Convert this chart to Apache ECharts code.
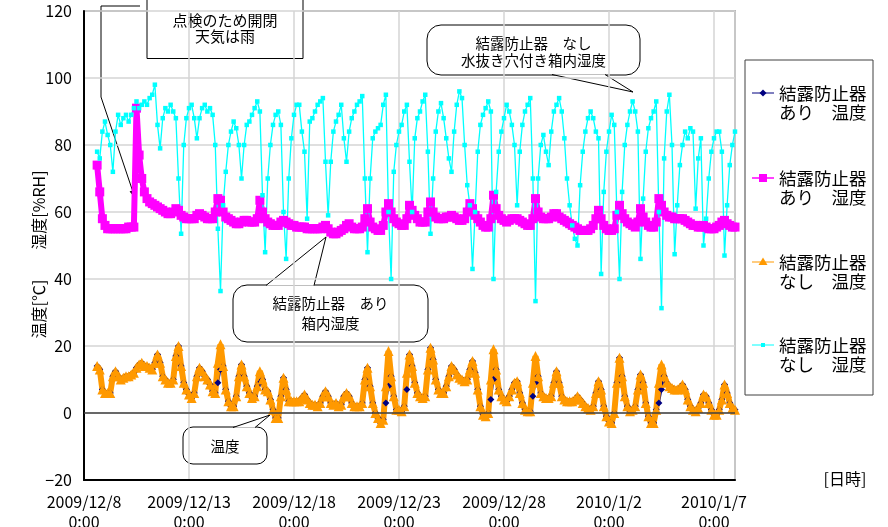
<!DOCTYPE html>
<html>
<head>
<meta charset="utf-8">
<script src="https://cdn.jsdelivr.net/npm/echarts@6/dist/echarts.min.js"></script>
<style>
  html, body { margin: 0; padding: 0; background: #fff; }
  #chart { width: 888px; height: 527px; }
</style>
</head>
<body>
<div id="chart"></div>
<script>
// Readings every 3 hours, first sample at 2009/12/8 15:00.
// x values are hours counted from 2009/12/8 0:00.
const START_HOUR = 15;
const STEP_HOURS = 3;

const xTickLabels = ['2009/12/8', '2009/12/13', '2009/12/18', '2009/12/23', '2009/12/28', '2010/1/2', '2010/1/7'];
const xTickTime = '0:00';

// 結露防止器あり 温度 [℃]
const tempAri = [
  14, 13, 7, 6, 6, 6, 11, 12.5,
  11, 10, 10.5, 11, 11, 11.5, 12, 13.5,
  14.5, 15, 14, 14, 13.5, 13, 15, 17.5,
  15, 11, 10, 9, 9, 10, 17, 20,
  14, 9, 7, 5.5, 4.5, 6, 11, 13.5,
  12.5, 11, 10, 8.5, 6.5, 6, 9, 13,
  14, 7, 3.5, 2, 2, 5, 11, 14.5,
  11, 8, 6, 4.5, 5, 8, 9, 10,
  7, 6.5, 4, 1, -1.5, -1.5, 5, 10.5,
  7, 3.5, 3.5, 3.5, 3.5, 3.5, 4.5, 5.5,
  4, 3, 2.5, 2.5, 2, 3, 5, 6.5,
  5, 3, 2.5, 3, 2, 2.5, 5, 6,
  5, 3, 2, 2, 2, 3, 10, 13.5,
  8, 3, 0, -1.5, -3, -2, 3, 8,
  11, 5, 1, 1, 0.5, 2, 7, 17.5,
  14, 9, 6, 5, 4.5, 5, 13, 19.5,
  16, 10, 7, 6, 6, 8, 11, 14,
  13, 11.5, 10.5, 10, 9.5, 10, 13, 15.5,
  12, 7, 2, -0.5, -1, 0, 4, 10,
  13, 7, 5, 4, 3.5, 5, 7, 9,
  9.5, 6, 3, 1, 0.5, 0.5, 5, 9,
  11, 6, 5, 4.5, 4.5, 5, 9, 12.5,
  9, 5, 4, 3.5, 3.5, 3.5, 4, 5,
  4, 3, 2, 1.5, 1, 2, 6, 9.5,
  7, 2, -1, -2.5, -3, 0, 9, 16.5,
  11, 5, 2, 0.5, 1, 2, 7, 11.5,
  9, 3, -1, -3, -3, 1, 3, 7,
  11, 9, 8, 7.5, 7, 7, 7.5, 8.5,
  7, 4, 2, 1, 0.5, 1.5, 3, 5.5,
  5, 3, 1, -0.5, -0.5, 1, 4, 8.5,
  6, 3, 1.5, 1
];

// 結露防止器あり 湿度 [%RH]
const humAri = [
  74, 66, 58, 56, 55, 55, 55, 55,
  55, 55, 55, 55, 55.5, 55.5, 55.5, 91,
  77, 70, 66, 64, 63, 62.5, 62, 61.5,
  61, 60.5, 60, 59.5, 59.5, 60, 61, 60.5,
  59, 58.5, 58, 58, 58, 58, 59, 59.5,
  59, 58.5, 58, 58, 58, 60, 64, 63.5,
  60, 58.5, 58, 57.5, 57, 56.5, 56.5, 57,
  57.5, 57.5, 57, 57, 57, 58, 63.5, 60,
  58, 57, 56.5, 56, 56, 56, 57, 57.5,
  57, 56.5, 56, 56, 55.5, 55.5, 55.5, 55.5,
  55, 55, 55, 55, 55, 55, 55.5, 56,
  55, 54, 53.5, 53.5, 54, 54.5, 55, 56,
  56.5, 55.5, 55, 55, 55, 55.5, 58, 61,
  57, 55.5, 55, 54.5, 54.5, 56, 60, 62.5,
  60, 58, 57, 56.5, 56, 56, 58, 62,
  60.5, 59, 58, 57, 57, 57, 60, 63,
  60, 58.5, 58, 58, 58, 58.5, 58.5, 59,
  58.5, 58, 57.5, 57.5, 58, 60, 62.5, 61,
  59, 58, 57, 56, 55.5, 55.5, 58, 65,
  61, 59, 58, 57.5, 57, 57.5, 58, 58,
  58, 57.5, 57, 56.5, 56, 56, 58, 64,
  60, 58.5, 58, 58, 58, 58.5, 59.5, 59.5,
  58.5, 58, 57.5, 57, 56.5, 56, 55.5, 55,
  54.5, 54.5, 54.5, 54.5, 55, 56, 58, 60.5,
  58, 56, 55, 54.5, 54.5, 55, 59, 62,
  59.5, 58, 57, 56.5, 56, 55.5, 57, 61,
  58.5, 57, 56, 55.5, 55.5, 57, 64, 62,
  60, 59, 58.5, 58.5, 58, 58, 58, 58,
  57.5, 57, 56.5, 56, 56, 55.5, 55.5, 56,
  55.5, 55, 55, 55, 55.5, 56, 57, 57.5,
  56.5, 56, 55.5, 55.5
];

// 結露防止器なし 温度 [℃]
const tempNashi = [
  14, 13, 7, 6, 6, 6, 11, 12.5,
  11, 10, 10.5, 11, 11, 11.5, 12, 13.5,
  14.5, 15, 14, 14, 13.5, 13, 15, 17.5,
  15, 11, 10, 9, 9, 10, 17, 20,
  14, 9, 7, 5.5, 4.5, 6, 11, 13.5,
  12.5, 11, 10, 8.5, 6.5, 6, 15, 20.5,
  14, 7, 3.5, 2, 2, 5, 11, 14.5,
  11, 8, 6, 4.5, 5, 8, 12.5, 10,
  7, 6.5, 4, 1, -1.5, -1.5, 5, 10.5,
  7, 3.5, 3.5, 3.5, 3.5, 3.5, 4.5, 5.5,
  4, 3, 2.5, 2.5, 2, 3, 5, 6.5,
  5, 3, 2.5, 3, 2, 2.5, 5, 6,
  5, 3, 2, 2, 2, 3, 10, 13.5,
  8, 3, 0, -1.5, -3, -2, 8, 18.5,
  11, 5, 1, 1, 0.5, 2, 12, 17.5,
  14, 9, 6, 5, 4.5, 5, 13, 19.5,
  16, 10, 7, 6, 6, 8, 11, 14,
  13, 11.5, 10.5, 10, 9.5, 10, 13, 15.5,
  12, 7, 2, -0.5, -1, 0, 10, 19,
  13, 7, 5, 4, 3.5, 5, 7, 9,
  9.5, 6, 3, 1, 0.5, 0.5, 9, 17,
  11, 6, 5, 4.5, 4.5, 5, 9, 12.5,
  9, 5, 4, 3.5, 3.5, 3.5, 4, 5,
  4, 3, 2, 1.5, 1, 2, 6, 9.5,
  7, 2, -1, -2.5, -3, 0, 9, 16.5,
  11, 5, 2, 0.5, 1, 2, 7, 11.5,
  9, 3, -1, -3, -3, 1, 9, 14.5,
  11, 9, 8, 7.5, 7, 7, 7.5, 8.5,
  7, 4, 2, 1, 0.5, 1.5, 3, 5.5,
  5, 3, 1, -0.5, -0.5, 1, 4, 8.5,
  6, 3, 1.5, 1
];

// 結露防止器なし 湿度 [%RH] (水抜き穴付き箱内)
const humNashi = [
  78, 76, 84, 87, 83, 80, 72, 84,
  89, 86, 88, 89, 87, 89, 91, 93,
  91, 92, 93, 92, 94, 95, 98, 86,
  79, 88, 91, 90, 92, 90, 88, 70,
  53.5, 80, 88, 91, 92, 88, 82, 88,
  91, 92, 90, 91, 89, 80, 55, 36.4,
  62, 72, 80, 84, 87, 85, 80, 70,
  80, 86, 87, 89, 91, 93, 90, 65,
  48, 70, 80, 86, 89, 90, 86, 60,
  46, 70, 82, 89, 92, 92, 84, 78,
  58, 87, 88, 90, 92, 93, 94, 75,
  59, 75, 84, 87, 89, 92, 82, 75,
  84, 88, 90, 92, 93, 94.6, 70, 48,
  70, 82, 84, 85, 86, 92, 95, 60,
  40, 72, 80, 84, 86, 90, 92, 75,
  60, 82, 88, 90, 93, 95, 78, 53.5,
  70, 84, 90, 92.5, 88, 82, 76, 72,
  84, 92, 96, 94, 80, 68, 62, 43,
  60, 78, 86, 89, 91, 93, 90, 40,
  66, 78, 84, 88, 92, 90, 86, 80,
  62, 78, 86, 90, 92, 94, 70, 33.4,
  70, 80, 83, 78, 74, 84, 90, 92,
  94, 90, 82, 70, 62, 56, 52, 50,
  68, 78, 84, 88, 90, 88, 84, 82,
  41.5, 66, 78, 84, 89, 86, 60, 40,
  66, 80, 86, 90, 93, 90, 84, 46,
  64, 78, 85, 88, 90, 93, 60, 31.3,
  76, 90, 95, 80, 47.4, 62, 74, 80,
  84, 82, 85, 84, 61, 76, 82, 50,
  58, 70, 78, 82, 84, 84, 78, 47,
  62, 74, 80, 84
];

const seriesNames = [
  '結露防止器\nあり　温度',
  '結露防止器\nあり　湿度',
  '結露防止器\nなし　温度',
  '結露防止器\nなし　湿度'
];
const seriesColors = ['#000080', '#FF00FF', '#FF9900', '#00FFFF'];

function toPoints(values) {
  return values.map((v, k) => [START_HOUR + k * STEP_HOURS, v]);
}

const FONT = '"Noto Sans CJK JP", "Noto Sans", sans-serif';

// ---- legend drawn as graphics (marker sits on the first text line) ----
const legendRows = [93, 178, 262, 345];
const legendGraphics = [
  { type: 'rect', shape: { x: 745, y: 60, width: 128, height: 335 },
    style: { fill: '#fff', stroke: '#404040', lineWidth: 1 } }
];
legendRows.forEach((row, k) => {
  const c = seriesColors[k];
  legendGraphics.push({ type: 'line', shape: { x1: 752, y1: row, x2: 774, y2: row },
    style: { stroke: c, lineWidth: k === 1 ? 1.5 : 1 } });
  let marker;
  if (k === 0) {
    marker = { type: 'polygon', shape: { points: [[763, row - 3.5], [766.5, row], [763, row + 3.5], [759.5, row]] }, style: { fill: c } };
  } else if (k === 1) {
    marker = { type: 'rect', shape: { x: 759, y: row - 4, width: 8, height: 8 }, style: { fill: c } };
  } else if (k === 2) {
    marker = { type: 'polygon', shape: { points: [[763, row - 4.5], [767.5, row + 3], [758.5, row + 3]] }, style: { fill: c } };
  } else {
    marker = { type: 'rect', shape: { x: 761, y: row - 2, width: 4, height: 4 }, style: { fill: c } };
  }
  legendGraphics.push(marker);
  const lines = seriesNames[k].split('\n');
  lines.forEach((t, j) => {
    legendGraphics.push({ type: 'text', style: {
      text: t, x: 779, y: row + j * 19, fill: '#000',
      font: '17.5px ' + FONT, textAlign: 'left', textVerticalAlign: 'middle' } });
  });
});

// ---- callouts ----
function textLine(t, x, y, size) {
  return { type: 'text', style: { text: t, x: x, y: y, fill: '#000',
    font: (size || 14.5) + 'px ' + FONT, textAlign: 'center', textVerticalAlign: 'middle' } };
}
function roundCallout(box, r, base1, base2, tip) {
  return [
    { type: 'rect', shape: { x: box[0], y: box[1], width: box[2], height: box[3], r: r },
      style: { fill: '#fff', stroke: '#000', lineWidth: 1 } },
    { type: 'polygon', shape: { points: [base1, base2, tip] }, style: { fill: '#fff', stroke: null } },
    { type: 'polyline', shape: { points: [base1, tip, base2] }, style: { fill: null, stroke: '#000', lineWidth: 1 } }
  ];
}

// arrow head for the inspection note
const tipPt = [135, 198];
const fromPt = [101, 97];
const dx = tipPt[0] - fromPt[0], dy = tipPt[1] - fromPt[1];
const len = Math.sqrt(dx * dx + dy * dy);
const ux = dx / len, uy = dy / len;
const bx = tipPt[0] - 8 * ux, by = tipPt[1] - 8 * uy;

const calloutGraphics = [
  // 点検のため開閉 (square box clipped at the top)
  { type: 'polyline', shape: { points: [[140, 6], [101, 6], fromPt, tipPt] },
    style: { fill: null, stroke: '#000', lineWidth: 1 } },
  { type: 'polygon', shape: { points: [tipPt, [bx - 3 * uy, by + 3 * ux], [bx + 3 * uy, by - 3 * ux]] },
    style: { fill: '#000' } },
  { type: 'rect', shape: { x: 147, y: -5, width: 156, height: 63.5 },
    style: { fill: '#fff', stroke: '#000', lineWidth: 1 } },
  textLine('点検のため開閉', 225, 20, 15),
  textLine('天気は雨', 225, 36, 15),

  ...roundCallout([427, 25, 213, 50], 14, [552, 74.5], [605, 74.5], [633, 92]),
  textLine('結露防止器　なし', 533.5, 43),
  textLine('水抜き穴付き箱内湿度', 533.5, 60),

  ...roundCallout([233, 285, 195, 57], 14, [266, 285.5], [314, 285.5], [326, 237]),
  textLine('結露防止器　あり', 330.5, 303),
  textLine('箱内湿度', 330.5, 323),

  ...roundCallout([183, 427, 84, 37], 10, [233, 427.5], [255, 427.5], [270, 415]),
  textLine('温度', 225, 446)
];

// ---- axis titles ----
const titleGraphics = [
  { type: 'text', x: 39, y: 210, rotation: Math.PI / 2,
    style: { text: '湿度[%RH]', x: 0, y: 0, fill: '#000', font: '16px ' + FONT,
      textAlign: 'center', textVerticalAlign: 'middle' } },
  { type: 'text', x: 39, y: 309, rotation: Math.PI / 2,
    style: { text: '温度[℃]', x: 0, y: 0, fill: '#000', font: '16px ' + FONT,
      textAlign: 'center', textVerticalAlign: 'middle' } },
  { type: 'text', style: { text: '[日時]', x: 845, y: 479, fill: '#000', font: '16px ' + FONT,
      textAlign: 'center', textVerticalAlign: 'middle' } }
];

const chart = echarts.init(document.getElementById('chart'), null, { renderer: 'canvas' });

const gridLine = { show: true, lineStyle: { color: '#d4d4d4', width: 1.5 } };

chart.setOption({
  animation: false,
  backgroundColor: '#fff',
  textStyle: { fontFamily: FONT },
  grid: {
    left: 84, right: 153, top: 11, bottom: 47,
    outerBoundsMode: 'none', containLabel: false,
    show: true, borderColor: '#808080', borderWidth: 1.5
  },
  xAxis: {
    type: 'value', min: 0, max: 744, interval: 120,
    axisLine: { show: true, onZero: false, lineStyle: { color: '#000', width: 2 } },
    axisTick: { show: false },
    splitLine: gridLine,
    axisLabel: {
      show: true, showMaxLabel: false, margin: 12, color: '#000', fontSize: 16, lineHeight: 20, fontFamily: FONT,
      formatter: function (v) {
        const k = Math.round(v / 120);
        if (Math.abs(v - k * 120) > 1e-6 || k >= xTickLabels.length) return '';
        return xTickLabels[k] + '\n' + xTickTime;
      }
    }
  },
  yAxis: {
    type: 'value', min: -20, max: 120, interval: 20,
    axisLine: { show: true, lineStyle: { color: '#000', width: 2 } },
    axisTick: { show: false },
    splitLine: gridLine,
    axisLabel: {
      margin: 12, color: '#000', fontSize: 16, fontFamily: FONT,
      formatter: function (v) { return String(v).replace('-', '−'); }
    }
  },
  series: [
    {
      name: seriesNames[0], type: 'line', data: toPoints(tempAri),
      symbol: 'diamond', symbolSize: 7, showAllSymbol: true,
      lineStyle: { color: seriesColors[0], width: 2 }, itemStyle: { color: seriesColors[0] },
      markLine: {
        silent: true, symbol: ['none', 'none'], label: { show: false },
        lineStyle: { color: '#404040', width: 1.5, type: 'solid' },
        data: [{ yAxis: 0 }]
      }
    },
    {
      name: seriesNames[1], type: 'line', data: toPoints(humAri),
      symbol: 'rect', symbolSize: 9, showAllSymbol: true,
      lineStyle: { color: seriesColors[1], width: 6 }, itemStyle: { color: seriesColors[1] }
    },
    {
      name: seriesNames[2], type: 'line', data: toPoints(tempNashi),
      symbol: 'triangle', symbolSize: 10, showAllSymbol: true,
      lineStyle: { color: seriesColors[2], width: 6 }, itemStyle: { color: seriesColors[2] }
    },
    {
      name: seriesNames[3], type: 'line', data: toPoints(humNashi),
      symbol: 'rect', symbolSize: 4.5, showAllSymbol: true,
      lineStyle: { color: seriesColors[3], width: 1.3 }, itemStyle: { color: seriesColors[3] }
    }
  ],
  graphic: { elements: [
    { type: 'group', z: 100, children: [].concat(calloutGraphics, legendGraphics, titleGraphics) }
  ] }
});
</script>
</body>
</html>
